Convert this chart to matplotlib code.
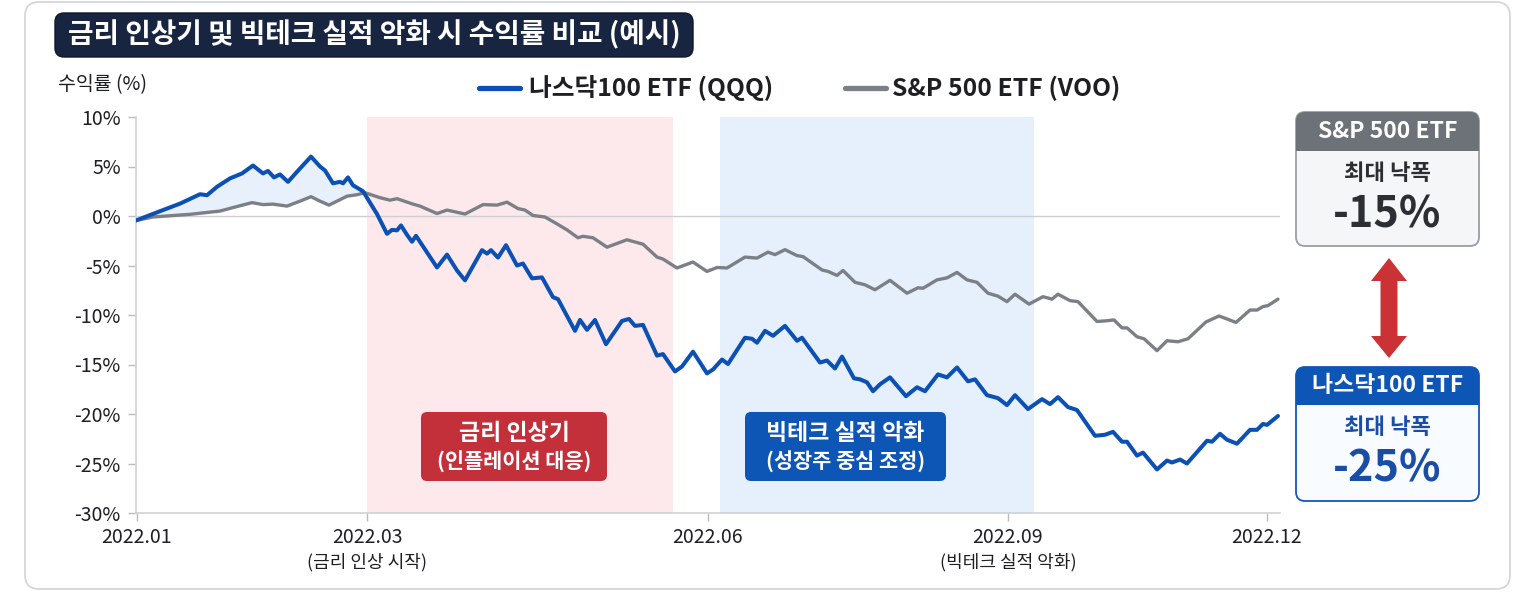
import numpy as np
import matplotlib
matplotlib.use("Agg")
import matplotlib.pyplot as plt
from matplotlib.patches import FancyBboxPatch, Polygon, Rectangle

plt.rcParams['font.family'] = ['Noto Sans CJK KR', 'DejaVu Sans']

# ---------------- data ----------------
title = "금리 인상기 및 빅테크 실적 악화 시 수익률 비교 (예시)"
ylabel = "수익률 (%)"
series_names = ["나스닥100 ETF (QQQ)", "S&P 500 ETF (VOO)"]

tick_pos = [1, 231, 572, 872, 1131]
tick_labels = ["2022.01", "2022.03", "2022.06", "2022.09", "2022.12"]
tick_notes = {231: "(금리 인상 시작)", 872: "(빅테크 실적 악화)"}

yticks = [10, 5, 0, -5, -10, -15, -20, -25, -30]

qqq_t = [0, 27, 44, 64, 71, 81, 94, 106, 117, 127, 132, 138, 144, 152, 164, 175,
         184, 189, 197, 204, 207, 212, 217, 227, 241, 251, 256, 261, 265, 271,
         276, 280, 301, 311, 321, 329, 346, 351, 355, 362, 370, 381, 387, 396,
         406, 417, 422, 439, 444, 451, 459, 470, 486, 493, 499, 507, 521, 527,
         539, 546, 557, 571, 577, 586, 592, 609, 616, 621, 629, 637, 649, 661,
         666, 684, 691, 699, 706, 718, 724, 731, 737, 744, 754, 770, 781, 789,
         802, 811, 821, 832, 839, 851, 862, 871, 879, 892, 906, 914, 922, 932,
         941, 959, 969, 977, 986, 991, 1001, 1007, 1021, 1031, 1036, 1044, 1051,
         1071, 1076, 1084, 1091, 1101, 1114, 1121, 1127, 1131, 1142]
qqq_v = [-0.45, 0.6, 1.25, 2.2, 2.1, 2.95, 3.8, 4.3, 5.1, 4.3, 4.55, 3.9, 4.2, 3.45,
         4.8, 6.0, 5.0, 4.6, 3.3, 3.45, 3.3, 3.9, 3.1, 2.5, 0.2, -1.8, -1.4, -1.45,
         -0.95, -1.9, -2.6, -2.0, -5.2, -3.9, -5.5, -6.5, -3.45, -3.8, -3.45, -4.2,
         -2.95, -5.0, -4.8, -6.3, -6.2, -8.2, -8.4, -11.6, -10.5, -11.5, -10.5,
         -12.95, -10.6, -10.4, -11.1, -11.0, -14.1, -13.95, -15.7, -15.2, -13.7,
         -15.9, -15.5, -14.5, -14.95, -12.3, -12.4, -12.8, -11.6, -12.1, -11.1,
         -12.6, -12.3, -14.8, -14.6, -15.4, -14.2, -16.4, -16.5, -16.8, -17.7,
         -17.0, -16.3, -18.2, -17.3, -17.7, -16.0, -16.3, -15.3, -16.7, -16.5,
         -18.1, -18.4, -19.1, -18.1, -19.5, -18.5, -19.0, -18.3, -19.3, -19.6,
         -22.2, -22.1, -21.8, -22.8, -22.8, -24.2, -23.9, -25.6, -24.7, -24.9,
         -24.6, -25.0, -22.7, -22.8, -22.0, -22.6, -23.0, -21.6, -21.6, -21.0,
         -21.1, -20.2]

voo_t = [0, 17, 54, 84, 97, 116, 127, 137, 151, 164, 175, 184, 193, 211, 221, 229,
         244, 254, 261, 277, 284, 301, 311, 329, 347, 361, 371, 382, 389, 397, 409,
         421, 431, 442, 447, 457, 471, 491, 507, 521, 527, 541, 557, 571, 581, 591,
         609, 621, 632, 639, 649, 661, 667, 686, 692, 701, 707, 719, 729, 739, 754,
         771, 782, 787, 801, 811, 821, 831, 841, 852, 862, 871, 879, 893, 907, 916,
         922, 934, 942, 961, 969, 978, 986, 991, 1001, 1008, 1021, 1031, 1042,
         1052, 1070, 1083, 1091, 1100, 1114, 1121, 1127, 1132, 1142]
voo_v = [-0.45, -0.1, 0.17, 0.5, 0.85, 1.35, 1.15, 1.2, 1.0, 1.5, 1.95, 1.5, 1.1,
         2.0, 2.15, 2.35, 1.85, 1.6, 1.75, 1.2, 1.0, 0.25, 0.6, 0.2, 1.15, 1.1, 1.4,
         0.75, 0.6, 0.05, -0.1, -0.8, -1.4, -2.2, -2.05, -2.2, -3.15, -2.4, -2.85,
         -4.15, -4.35, -5.25, -4.65, -5.6, -5.2, -5.25, -4.15, -4.25, -3.65, -3.9,
         -3.4, -4.0, -4.1, -5.45, -5.6, -6.0, -5.5, -6.7, -6.95, -7.45, -6.5, -7.8,
         -7.25, -7.3, -6.45, -6.25, -5.7, -6.45, -6.7, -7.8, -8.1, -8.65, -7.9,
         -8.9, -8.15, -8.4, -7.9, -8.55, -8.65, -10.65, -10.6, -10.5, -11.3, -11.3,
         -12.2, -12.4, -13.6, -12.6, -12.7, -12.4, -10.7, -10.1, -10.4, -10.75,
         -9.5, -9.5, -9.15, -9.05, -8.4]

periods = [(231, 537), (584, 898)]
period_titles = ["금리 인상기", "빅테크 실적 악화"]
period_subs = ["(인플레이션 대응)", "(성장주 중심 조정)"]

mdd_names = ["S&P 500 ETF", "나스닥100 ETF"]
mdd_label = "최대 낙폭"
mdd_values = ["-15%", "-25%"]

# ---------------- style ----------------
BLUE = "#0b50b4"
GRAY = "#7b7f86"
RED_BOX = "#c4303a"
BLUE_BOX = "#0d56b6"
NAVY = "#172540"
TXT = "#1d1f23"
W, H = 1530, 594

fig = plt.figure(figsize=(W / 100, H / 100), dpi=100)
fig.patch.set_facecolor("white")

# background card
bg = fig.add_axes([0, 0, 1, 1], zorder=0)
bg.set_xlim(0, W); bg.set_ylim(H, 0); bg.axis("off")
bg.add_patch(FancyBboxPatch((25, 2), 1485, 587, boxstyle="round,pad=0,rounding_size=14",
                            facecolor="white", edgecolor="#d3d6db", lw=1.3))

# main axes
ax = fig.add_axes([136 / W, 1 - 513 / H, (1280 - 136) / W, (513 - 117) / H], zorder=1)
ax.patch.set_alpha(0)
ax.set_xlim(0, 1144)
ax.set_ylim(-30, 10)

ax.axvspan(periods[0][0], periods[0][1], color="#fde9eb", lw=0, zorder=0)
ax.axvspan(periods[1][0], periods[1][1], color="#e6f0fc", lw=0, zorder=0)
ax.axhline(0, color="#cfcfd2", lw=1.0, zorder=1)

qt = np.array(qqq_t, float); qv = np.array(qqq_v, float)
voo_on_q = np.interp(qt, voo_t, voo_v)
mask = qt <= 232
ax.fill_between(qt[mask], voo_on_q[mask], qv[mask], where=qv[mask] >= voo_on_q[mask],
                color="#d4e5f8", alpha=0.55, lw=0, zorder=1, interpolate=True)

ax.plot(voo_t, voo_v, color=GRAY, lw=2.4, zorder=3, solid_capstyle="round",
        solid_joinstyle="round")
ax.plot(qqq_t, qqq_v, color=BLUE, lw=2.9, zorder=4, solid_capstyle="round",
        solid_joinstyle="round")

for s in ["top", "right"]:
    ax.spines[s].set_visible(False)
for s in ["left", "bottom"]:
    ax.spines[s].set_color("#cfd2d6")
    ax.spines[s].set_linewidth(1.2)

ax.set_yticks(yticks)
ax.set_yticklabels([f"{v}%" for v in yticks])
ax.set_xticks(tick_pos)
ax.set_xticklabels(tick_labels)
ax.tick_params(axis="both", colors="#b9bcc1", labelcolor=TXT, labelsize=14,
               length=6, width=1)
ax.tick_params(axis="y", pad=5)
ax.tick_params(axis="x", pad=4)

for pos, note in tick_notes.items():
    ax.text(pos, -0.125, note, transform=ax.get_xaxis_transform(), ha="center",
            va="center", fontsize=13, color=TXT)

# overlay in pixel coordinates for labels/boxes
ov = fig.add_axes([0, 0, 1, 1], zorder=2)
ov.set_xlim(0, W); ov.set_ylim(H, 0); ov.axis("off"); ov.patch.set_alpha(0)

# title
ov.add_patch(FancyBboxPatch((55, 13), 638, 44, boxstyle="round,pad=0,rounding_size=9",
                            facecolor=NAVY, edgecolor="#0e1828", lw=1))
ov.text(374, 35, title, ha="center", va="center", color="white", fontsize=20,
        fontweight="bold")

ov.text(58, 85, ylabel, ha="left", va="center", fontsize=14, color=TXT)

# legend
ov.plot([479, 520], [88, 88], color=BLUE, lw=3.8, solid_capstyle="round")
ov.text(529, 88, series_names[0], ha="left", va="center", fontsize=17.8,
        fontweight="bold", color=TXT)
ov.plot([845, 886], [88, 88], color=GRAY, lw=3.8, solid_capstyle="round")
ov.text(892, 88, series_names[1], ha="left", va="center", fontsize=17.8,
        fontweight="bold", color=TXT)

# period annotation boxes
for (x0, x1), col, t1, t2 in [((421, 607), RED_BOX, period_titles[0], period_subs[0]),
                              ((745, 946), BLUE_BOX, period_titles[1], period_subs[1])]:
    ov.add_patch(FancyBboxPatch((x0, 412), x1 - x0, 69,
                                boxstyle="round,pad=0,rounding_size=6",
                                facecolor=col, edgecolor="none"))
    cx = (x0 + x1) / 2
    ov.text(cx, 433, t1, ha="center", va="center", color="white", fontsize=16.5,
            fontweight="bold")
    ov.text(cx, 462, t2, ha="center", va="center", color="white", fontsize=15,
            fontweight="bold")

# max drawdown boxes
def mdd_box(y0, y1, yh, head_col, body_col, edge_col, name, val, txt_col):
    x0, x1 = 1296, 1479
    ov.add_patch(FancyBboxPatch((x0, y0), x1 - x0, y1 - y0,
                                boxstyle="round,pad=0,rounding_size=9",
                                facecolor=body_col, edgecolor=edge_col, lw=1.3, zorder=2))
    head = FancyBboxPatch((x0, y0), x1 - x0, y1 - y0,
                          boxstyle="round,pad=0,rounding_size=9",
                          facecolor=head_col, edgecolor="none", zorder=3)
    ov.add_patch(head)
    clip = Rectangle((x0 - 2, y0 - 2), x1 - x0 + 4, yh - y0 + 2, transform=ov.transData)
    head.set_clip_path(clip)
    cx = (x0 + x1) / 2
    ov.text(cx, (y0 + yh) / 2, name, ha="center", va="center", color="white",
            fontsize=16.5, fontweight="bold", zorder=4)
    ov.text(cx, yh + 22, mdd_label, ha="center", va="center", color=txt_col,
            fontsize=16, fontweight="bold", zorder=4)
    ov.text(cx, yh + 63, val, ha="center", va="center", color=txt_col,
            fontsize=31, fontweight="bold", zorder=4)

mdd_box(112, 246, 151, "#6d7178", "#f5f6f7", "#9a9ea5", mdd_names[0], mdd_values[0], "#2b2e33")
mdd_box(367, 501, 405, BLUE_BOX, "#f8fbff", "#1556b8", mdd_names[1], mdd_values[1], "#1a4ea6")

# red double arrow
cx = 1389
arrow = Polygon([(cx, 258), (cx + 18, 281), (cx + 8.5, 281), (cx + 8.5, 336),
                 (cx + 18, 336), (cx, 358), (cx - 18, 336), (cx - 8.5, 336),
                 (cx - 8.5, 281), (cx - 18, 281)], closed=True,
                facecolor="#cb3236", edgecolor="none")
ov.add_patch(arrow)

fig.savefig("out.png", dpi=100, facecolor="white")
